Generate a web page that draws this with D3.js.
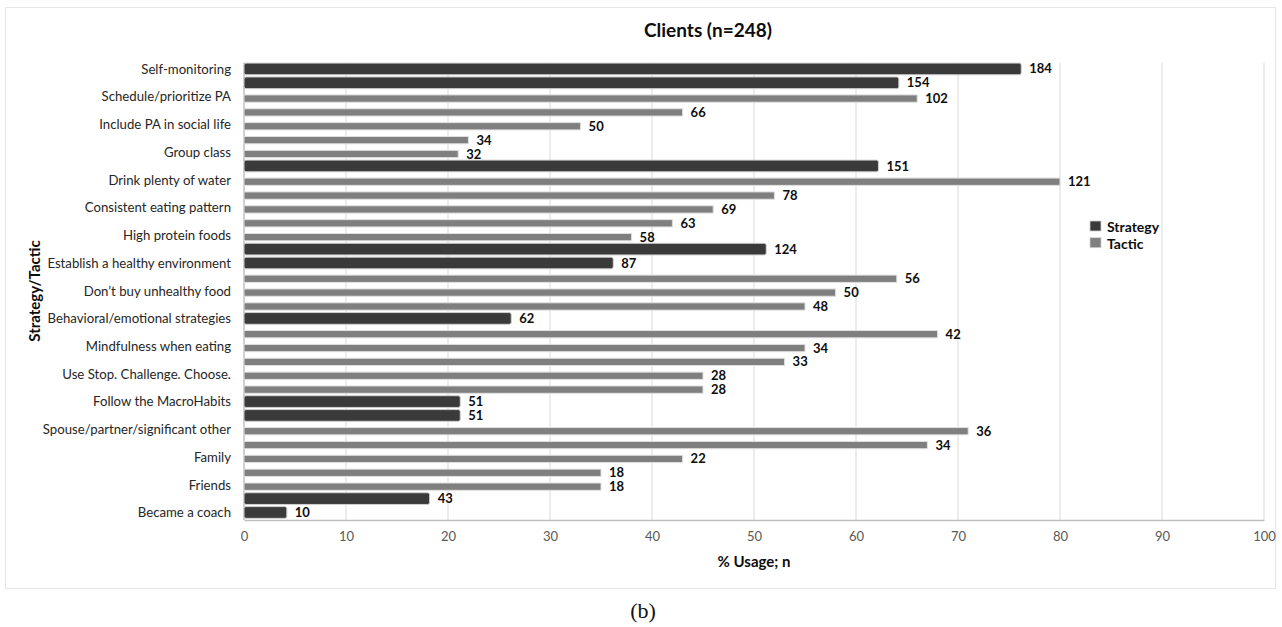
<!DOCTYPE html>
<html><head><meta charset="utf-8">
<script src="https://cdn.jsdelivr.net/npm/d3@7"></script>
<style>
body{margin:0;background:#fff;}
svg{display:block;}
</style></head>
<body>
<svg id="chart" width="1282" height="627"></svg>
<script>
// ---- data ----
const categories = ["Self-monitoring","","Schedule/prioritize PA","","Include PA in social life","","Group class","","Drink plenty of water","","Consistent eating pattern","","High protein foods","","Establish a healthy environment","","Don\u2019t buy unhealthy food","","Behavioral/emotional strategies","","Mindfulness when eating","","Use Stop. Challenge. Choose.","","Follow the MacroHabits","","Spouse/partner/significant other","","Family","","Friends","","Became a coach"];
const types = ["Strategy","Strategy","Tactic","Tactic","Tactic","Tactic","Tactic","Strategy","Tactic","Tactic","Tactic","Tactic","Tactic","Strategy","Strategy","Tactic","Tactic","Tactic","Strategy","Tactic","Tactic","Tactic","Tactic","Tactic","Strategy","Strategy","Tactic","Tactic","Tactic","Tactic","Tactic","Strategy","Strategy"];
const percentUsage = [76.2,64.2,66,43,33,22,21,62.2,80,52,46,42,38,51.2,36.2,64,58,55,26.2,68,55,53,45,45,21.2,21.2,71,67,43,35,35,18.2,4.2];
const nLabels = [184,154,102,66,50,34,32,151,121,78,69,63,58,124,87,56,50,48,62,42,34,33,28,28,51,51,36,34,22,18,18,43,10];
const xTicks = [0,10,20,30,40,50,60,70,80,90,100];
const seriesNames = ["Strategy","Tactic"];
const title = "Clients (n=248)";
const xTitle = "% Usage; n";
const yTitle = "Strategy/Tactic";
const caption = "(b)";

// ---- layout ----
const svg = d3.select("#chart");
const FONT = "Lato, 'Open Sans', sans-serif";
const colors = {Strategy:"#3a3a3a", Tactic:"#7f7f7f"};
const plot = {left:244, right:1264, top:62.6, bottom:520};

const x = d3.scaleLinear().domain([0,100]).range([plot.left, plot.right]);
const idx = d3.range(categories.length);
const y = d3.scaleBand().domain(idx).range([plot.top, plot.bottom]).padding(0);

// outer frame
svg.append("rect").attr("x",5.5).attr("y",7.5).attr("width",1270).attr("height",581)
  .attr("fill","#fff").attr("stroke","#e6e6e6").attr("stroke-width",1);

// gridlines
svg.append("g").selectAll("line").data(xTicks.filter(d=>d>0)).join("line")
  .attr("x1",d=>x(d)).attr("x2",d=>x(d)).attr("y1",plot.top).attr("y2",plot.bottom)
  .attr("stroke","#d9d9d9").attr("stroke-width",1);

// x axis
const xAxis = d3.axisBottom(x).tickValues(xTicks).tickSize(0).tickPadding(12);
const gx = svg.append("g").attr("transform",`translate(0,${plot.bottom})`).call(xAxis);
gx.select(".domain").attr("stroke","#bfbfbf").attr("stroke-width",1.5);
gx.selectAll("text").attr("font-family",FONT).attr("font-size",13).attr("fill","#595959");

// y axis line
svg.append("line").attr("x1",plot.left).attr("x2",plot.left).attr("y1",plot.top).attr("y2",plot.bottom)
  .attr("stroke","#bfbfbf").attr("stroke-width",1.5);

// category labels
const yAxis = d3.axisLeft(y).tickSize(0).tickPadding(13).tickFormat(i=>categories[i]);
const gy = svg.append("g").attr("transform",`translate(${plot.left},0)`).call(yAxis);
gy.select(".domain").remove();
gy.selectAll("text").attr("font-family",FONT).attr("font-size",13.2).attr("fill","#262626");

// bars
const barH = {Strategy:11.7, Tactic:7.3};
const barOff = {Strategy:-0.6, Tactic:1.3};
const cy = i => y(i) + y.bandwidth()/2 + barOff[types[i]];
svg.append("g").selectAll("rect").data(idx).join("rect")
  .attr("x",x(0))
  .attr("y",i=>cy(i)-barH[types[i]]/2)
  .attr("width",i=>x(percentUsage[i])-x(0))
  .attr("height",i=>barH[types[i]])
  .attr("rx",i=>types[i]==="Strategy"?2:0)
  .attr("fill",i=>colors[types[i]])
  .attr("stroke",i=>types[i]==="Strategy"?"#cfcfcf":"#e0e0e0")
  .attr("stroke-width",1);

// value labels
svg.append("g").selectAll("text").data(idx).join("text")
  .attr("x",i=>x(percentUsage[i])+8)
  .attr("y",i=>cy(i))
  .attr("dy","0.35em")
  .attr("font-family",FONT).attr("font-weight","bold").attr("font-size",13)
  .attr("fill","#0d0d0d")
  .text(i=>nLabels[i]);

// title
svg.append("text").attr("x",708).attr("y",37).attr("text-anchor","middle")
  .attr("font-family",FONT).attr("font-weight","bold").attr("font-size",19).attr("fill","#0d0d0d")
  .text(title);

// axis titles
svg.append("text").attr("x",754).attr("y",566.5).attr("text-anchor","middle")
  .attr("font-family",FONT).attr("font-weight","bold").attr("font-size",15).attr("fill","#0d0d0d")
  .text(xTitle);
svg.append("text").attr("transform","translate(40,291) rotate(-90)").attr("text-anchor","middle")
  .attr("font-family",FONT).attr("font-weight","bold").attr("font-size",15).attr("fill","#0d0d0d")
  .text(yTitle);

// legend
const lg = svg.append("g");
seriesNames.forEach((s,k)=>{
  const ly = 221 + k*16.7;
  lg.append("rect").attr("x",1090).attr("y",ly).attr("width",11).attr("height",10)
    .attr("fill",colors[s]).attr("stroke","#d0d0d0").attr("stroke-width",0.8);
  lg.append("text").attr("x",1107).attr("y",ly+5.5).attr("dy","0.4em")
    .attr("font-family",FONT).attr("font-weight","bold").attr("font-size",14).attr("fill","#0d0d0d")
    .text(s);
});

// caption
svg.append("text").attr("x",643).attr("y",618).attr("text-anchor","middle")
  .attr("font-family","'Liberation Serif', 'DejaVu Serif', serif").attr("font-size",22).attr("fill","#111")
  .text(caption);
</script>
</body></html>
